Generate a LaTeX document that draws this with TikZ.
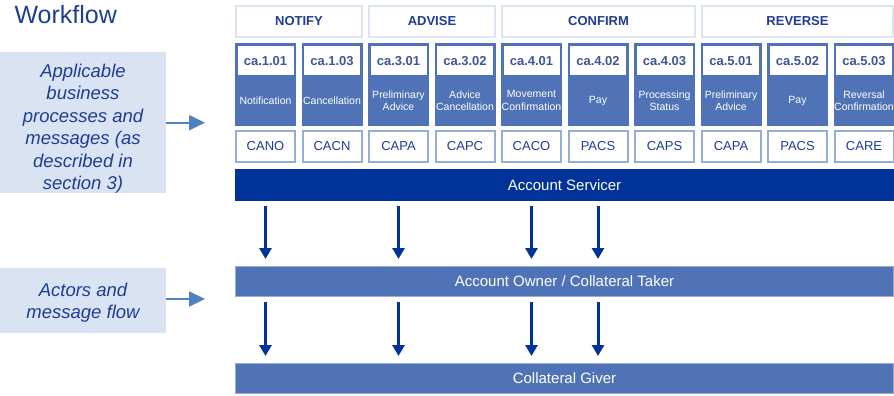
\documentclass[tikz,border=0pt]{standalone}
\usepackage{fontspec}
\setmainfont{Liberation Sans}
\usetikzlibrary{arrows.meta}
\definecolor{darkblue}{RGB}{0,51,153}
\definecolor{midblue}{RGB}{79,115,182}
\definecolor{textblue}{RGB}{31,60,150}
\definecolor{codeblue}{RGB}{64,86,150}
\definecolor{paleblue}{RGB}{218,227,241}
\definecolor{lineblue}{RGB}{149,172,216}
\definecolor{headline}{RGB}{220,228,242}
\definecolor{sideblue}{RGB}{79,129,189}

\begin{document}
\begin{tikzpicture}[x=1pt,y=-1pt,
  head node/.style={draw=headline,line width=2pt,fill=white,minimum height=31pt,inner sep=0pt,font=\fontsize{13}{15}\selectfont\bfseries,text=textblue},
  cell node/.style={fill=midblue,minimum width=61pt,minimum height=83pt,inner sep=0pt},
  code node/.style={draw=midblue,line width=1pt,fill=white,minimum width=57pt,minimum height=30pt,inner sep=0pt,font=\fontsize{13}{15}\selectfont\bfseries,text=codeblue},
  name node/.style={align=center,text=white,inner sep=0pt,font=\fontsize{10.5}{12.5}\selectfont},
  msg node/.style={draw=lineblue,line width=2pt,fill=white,minimum width=59pt,minimum height=31pt,inner sep=0pt,font=\fontsize{13}{15}\selectfont,text=textblue},
  bar node/.style={minimum width=659pt,minimum height=31pt,inner sep=0pt,text=white,font=\fontsize{15}{18}\selectfont},
  side box/.style={fill=paleblue,minimum width=166pt,inner sep=0pt},
  side text/.style={inner sep=0pt,align=center,text=textblue,font=\fontsize{18.5}{22.5}\selectfont\itshape},
  flow/.style={-{Triangle[length=11pt,width=12pt]},line width=3pt,draw=darkblue,shorten <=5pt,shorten >=7pt},
  point/.style={-{Triangle[length=16pt,width=15pt]},line width=2.2pt,draw=sideblue}]
  \useasboundingbox (0,0) rectangle (894,396);

  \node[anchor=base west,text=textblue,font=\fontsize{25}{28}\selectfont] (title) at (11,23.5) {Workflow};

  % phases
  \node[head node,minimum width=126pt] (notify) at (299,21.5) {NOTIFY};
  \node[head node,minimum width=126pt] (advise) at (432,21.5) {ADVISE};
  \node[head node,minimum width=193pt] (confirm) at (598.5,21.5) {CONFIRM};
  \node[head node,minimum width=191pt] (reverse) at (797.5,21.5) {REVERSE};

  % business processes
  \node[cell node] (c101) at (265.5,84.5) {};
  \node[code node] (k101) at (265.5,61) {ca.1.01};
  \node[name node] (n101) at (265.5,100.5) {Notification};
  \node[msg node] (m101) at (265.5,146.5) {CANO};

  \node[cell node] (c103) at (332,84.5) {};
  \node[code node] (k103) at (332,61) {ca.1.03};
  \node[name node] (n103) at (332,100.5) {Cancellation};
  \node[msg node] (m103) at (332,146.5) {CACN};

  \node[cell node] (c301) at (398.5,84.5) {};
  \node[code node] (k301) at (398.5,61) {ca.3.01};
  \node[name node] (n301) at (398.5,100.5) {Preliminary\\Advice};
  \node[msg node] (m301) at (398.5,146.5) {CAPA};

  \node[cell node] (c302) at (465,84.5) {};
  \node[code node] (k302) at (465,61) {ca.3.02};
  \node[name node] (n302) at (465,100.5) {Advice\\Cancellation};
  \node[msg node] (m302) at (465,146.5) {CAPC};

  \node[cell node] (c401) at (531.5,84.5) {};
  \node[code node] (k401) at (531.5,61) {ca.4.01};
  \node[name node] (n401) at (531.5,100.5) {Movement\\Confirmation};
  \node[msg node] (m401) at (531.5,146.5) {CACO};

  \node[cell node] (c402) at (598,84.5) {};
  \node[code node] (k402) at (598,61) {ca.4.02};
  \node[name node] (n402) at (598,100.5) {Pay};
  \node[msg node] (m402) at (598,146.5) {PACS};

  \node[cell node] (c403) at (664.5,84.5) {};
  \node[code node] (k403) at (664.5,61) {ca.4.03};
  \node[name node] (n403) at (664.5,100.5) {Processing\\Status};
  \node[msg node] (m403) at (664.5,146.5) {CAPS};

  \node[cell node] (c501) at (731,84.5) {};
  \node[code node] (k501) at (731,61) {ca.5.01};
  \node[name node] (n501) at (731,100.5) {Preliminary\\Advice};
  \node[msg node] (m501) at (731,146.5) {CAPA};

  \node[cell node] (c502) at (797.5,84.5) {};
  \node[code node] (k502) at (797.5,61) {ca.5.02};
  \node[name node] (n502) at (797.5,100.5) {Pay};
  \node[msg node] (m502) at (797.5,146.5) {PACS};

  \node[cell node] (c503) at (864,84.5) {};
  \node[code node] (k503) at (864,61) {ca.5.03};
  \node[name node] (n503) at (864,100.5) {Reversal\\Confirmation};
  \node[msg node] (m503) at (864,146.5) {CARE};

  % actors
  \node[bar node,fill=darkblue,minimum height=32pt] (servicer) at (564.5,185) {Account Servicer};
  \node[bar node,fill=midblue,draw=lineblue,line width=1pt,minimum width=658pt,minimum height=30pt] (owner) at (564.5,281.5) {Account Owner / Collateral Taker};
  \node[bar node,fill=midblue,draw=lineblue,line width=1pt,minimum width=658pt,minimum height=30pt] (giver) at (564.5,378.5) {Collateral Giver};

 \draw[flow] (servicer.south -| m101) -- (owner.north -| m101);
 \draw[flow] (servicer.south -| m301) -- (owner.north -| m301);
 \draw[flow] (servicer.south -| m401) -- (owner.north -| m401);
 \draw[flow] (servicer.south -| m402) -- (owner.north -| m402);

 \draw[flow] (owner.south -| m101) -- (giver.north -| m101);
 \draw[flow] (owner.south -| m301) -- (giver.north -| m301);
 \draw[flow] (owner.south -| m401) -- (giver.north -| m401);
 \draw[flow] (owner.south -| m402) -- (giver.north -| m402);

  % legend
  \node[side box,minimum height=141pt] (apply) at (83,122.5) {};
  \node[side text] (applytext) at (83,128.5) {Applicable\\business\\processes and\\messages (as\\described in\\section 3)};
  \node[side box,minimum height=65pt] (actors) at (83,300.5) {};
  \node[side text] (actorstext) at (83,302.5) {Actors and\\message flow};
  \coordinate (p1) at (205,122.7);
  \coordinate (p2) at (205,299);
 \draw[point] (apply.east |- p1) -- (p1);
 \draw[point] (actors.east |- p2) -- (p2);
\end{tikzpicture}
\end{document}
